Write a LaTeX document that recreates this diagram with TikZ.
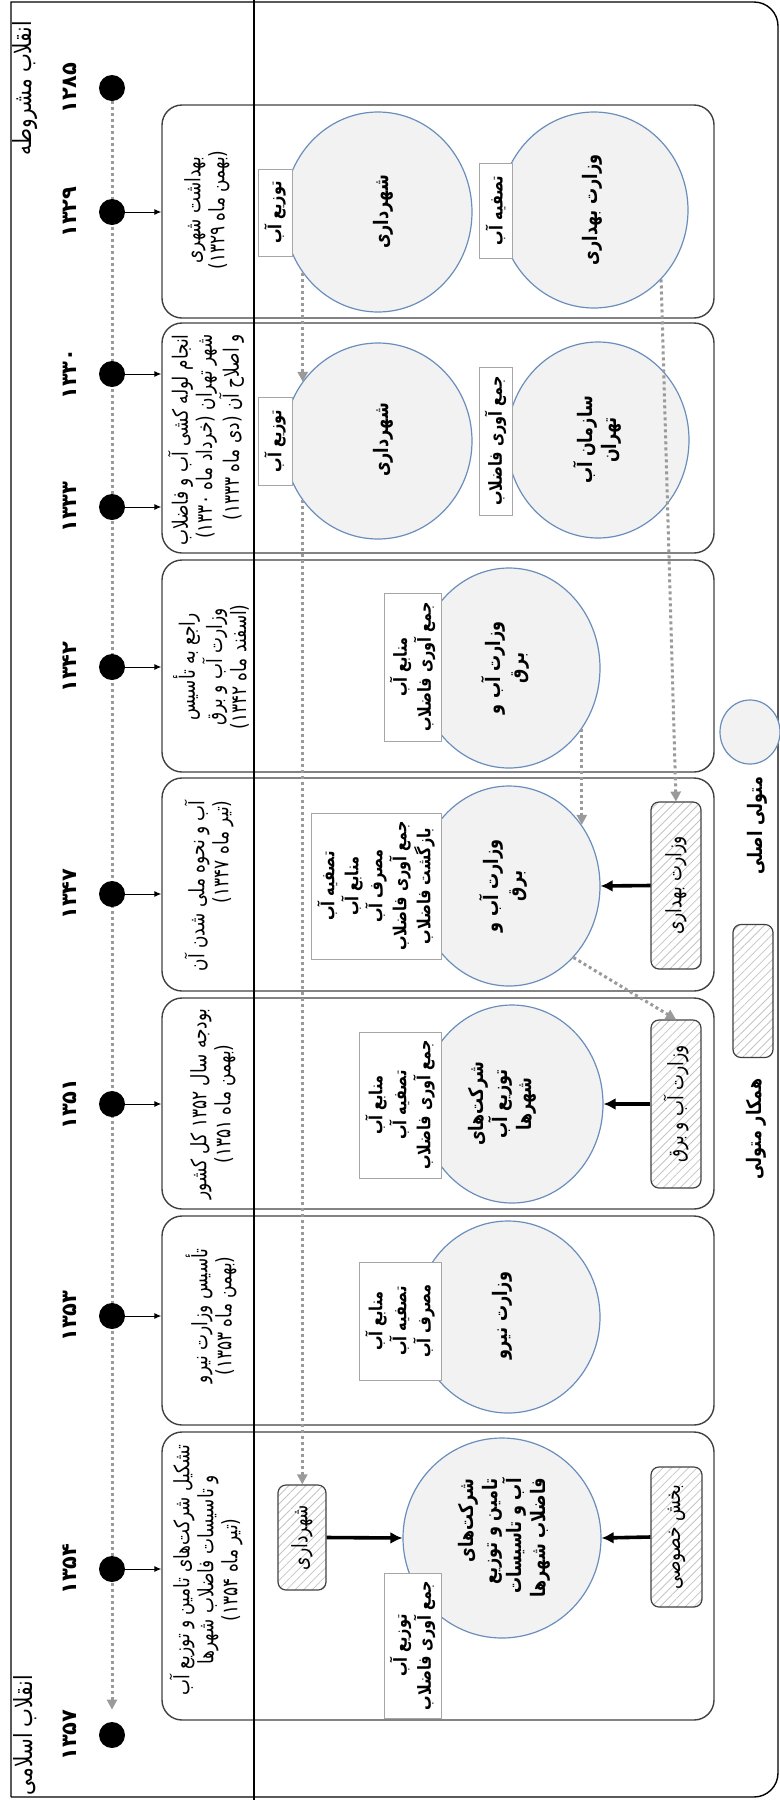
\documentclass[tikz,border=0pt]{standalone}
\usepackage{fontspec}
\usepackage[dvipsnames]{xcolor}
\usepackage{tikz}
\usetikzlibrary{shapes.geometric,arrows.meta,patterns.meta,backgrounds}
\newfontfamily\fa[Script=Arabic,FakeStretch=0.8]{DejaVu Sans}
\newfontfamily\fanum[Script=Arabic]{DejaVu Sans}
\TeXXeTstate=1
\newcommand\rl[1]{\beginR#1\endR}
\definecolor{dotgray}{HTML}{9A9A9A}
\definecolor{ringblue}{HTML}{6A8EBB}
\definecolor{fillgray}{HTML}{F2F2F2}
\definecolor{hatchgray}{HTML}{C4C4C4}

\begin{document}
\begin{tikzpicture}[x=0.5pt,y=-0.5pt,
    every node/.style={inner sep=0pt,font=\fa\fontsize{10.6}{12}\selectfont},
    vtext/.style={rotate=90,align=center},
    yearlbl/.style={rotate=90,font=\fanum\bfseries\fontsize{10.5}{12}\selectfont},
    tdot/.style={circle,fill=black,minimum size=13pt},
    eventbox/.style={draw=black!75,line width=0.7pt,rounded corners=10pt},
    role/.style={ellipse,draw=ringblue,line width=0.6pt,fill=fillgray},
    rolename/.style={rotate=90,align=center,font=\fa\bfseries\fontsize{10}{12}\selectfont},
    duty/.style={rotate=90,align=center,draw=black!35,line width=0.5pt,fill=white,font=\fa\bfseries\fontsize{9}{12}\selectfont},
    partner/.style={rotate=90,draw=black!75,line width=0.6pt,rounded corners=4pt,
      pattern={Lines[angle=45,distance=3pt,line width=0.4pt]},pattern color=hatchgray},
    flow/.style={draw=dotgray,line width=1.5pt,dash pattern=on 1.5pt off 1.5pt,-{Triangle[width=5pt,length=5pt]}},
    feed/.style={line width=1.8pt,-{Latex[length=6pt,width=6pt]}},
    link/.style={line width=0.5pt,-{Latex[length=3.5pt,width=3pt]}}]
  \useasboundingbox (0,0) rectangle (780,1800);

  \draw[line width=0.7pt] (11,1797) -- (11,2) [rounded corners=12pt] -- (778,2) -- (778,1797) -- (11,1797);

  \node[eventbox,minimum width=276pt,minimum height=106.5pt] (b1) at (438,211.5) {};
  \node[eventbox,minimum width=276pt,minimum height=115pt] (b2) at (438,438) {};
  \node[eventbox,minimum width=276pt,minimum height=106pt] (b3) at (438,666) {};
  \node[eventbox,minimum width=276pt,minimum height=106.5pt] (b4) at (438,884.5) {};
  \node[eventbox,minimum width=276pt,minimum height=105.5pt] (b5) at (438,1103.5) {};
  \node[eventbox,minimum width=276pt,minimum height=104.5pt] (b6) at (438,1320.5) {};
  \node[eventbox,minimum width=276pt,minimum height=144pt] (b7) at (438,1576) {};

  \draw[line width=1pt] (254,0) -- (254,1800);

  \node[tdot] (d1285) at (112,88) {};
  \node[tdot] (d1329) at (112,212) {};
  \node[tdot] (d1330) at (112,374) {};
  \node[tdot] (d1333) at (112,507) {};
  \node[tdot] (d1342) at (112,667) {};
  \node[tdot] (d1347) at (112,894) {};
  \node[tdot] (d1351) at (112,1104) {};
  \node[tdot] (d1353) at (112,1316) {};
  \node[tdot] (d1354) at (112,1569) {};
  \node[tdot] (d1357) at (112,1735) {};
  \begin{scope}[on background layer]
    \draw[flow,shorten >=6pt] (d1285) -- (d1357);
  \end{scope}

  \node[yearlbl] (y1285) at (70,88) {۱۲۸۵};
  \node[yearlbl] (y1329) at (70,212) {۱۳۲۹};
  \node[yearlbl] (y1330) at (70,374) {۱۳۳۰};
  \node[yearlbl] (y1333) at (70,507) {۱۳۳۳};
  \node[yearlbl] (y1342) at (70,667) {۱۳۴۲};
  \node[yearlbl] (y1347) at (70,894) {۱۳۴۷};
  \node[yearlbl] (y1351) at (70,1104) {۱۳۵۱};
  \node[yearlbl] (y1353) at (70,1316) {۱۳۵۳};
  \node[yearlbl] (y1354) at (70,1569) {۱۳۵۴};
  \node[yearlbl] (y1357) at (70,1735) {۱۳۵۷};
  \node[vtext,font=\fa\fontsize{12.5}{14}\selectfont] (rev1) at (25,88) {\rl{انقلاب مشروطه}};
  \node[vtext,font=\fa\fontsize{12.5}{14}\selectfont] (rev2) at (25,1735) {\rl{انقلاب اسلامی}};

  \draw[link] (d1329) -- (d1329 -| b1.west);
  \draw[link] (d1330) -- (d1330 -| b2.west);
  \draw[link] (d1333) -- (d1333 -| b2.west);
  \draw[link] (d1342) -- (d1342 -| b3.west);
  \draw[link] (d1347) -- (d1347 -| b4.west);
  \draw[link] (d1351) -- (d1351 -| b5.west);
  \draw[link] (d1353) -- (d1353 -| b6.west);
  \draw[link] (d1354) -- (d1354 -| b7.west);

  \node[vtext] (e1329) at (207,210) {\rl{بهداشت شهری}\\\rl{(بهمن ماه ۱۳۲۹)}};
  \node[vtext,align=right] (e1330) at (206,440) {\rl{انجام لوله کشی آب و فاضلاب}\\\rl{شهر تهران (خرداد ماه ۱۳۳۰)}\\\rl{و اصلاح آن (دی ماه ۱۳۳۳)}};
  \node[vtext] (e1342) at (211,667) {\rl{راجع به تأسیس}\\\rl{وزارت آب و برق}\\\rl{(اسفند ماه ۱۳۴۲)}};
  \node[vtext,align=right,anchor=east] (e1347) at (209,800) {\rl{آب و نحوه ملی شدن آن}\\\rl{(تیر ماه ۱۳۴۷)}};
  \node[vtext] (e1351) at (213,1104) {\rl{بودجه سال ۱۳۵۲ کل کشور}\\\rl{(بهمن ماه ۱۳۵۱)}};
  \node[vtext] (e1353) at (211,1316) {\rl{تأسیس وزارت نیرو}\\\rl{(بهمن ماه ۱۳۵۳)}};
  \node[vtext] (e1354) at (206,1570) {\rl{تشکیل شرکت‌های تامین و توزیع آب}\\\rl{و تاسیسات فاضلاب شهرها}\\\rl{(تیر ماه ۱۳۵۴)}};

  \node[role,minimum width=94pt,minimum height=100pt] (muni1) at (378,212) {};
  \node[role,minimum width=94pt,minimum height=98pt] (health1) at (594,210) {};
  \node[role,minimum width=94pt,minimum height=98pt] (muni2) at (378,441) {};
  \node[role,minimum width=91pt,minimum height=98pt] (tehran2) at (598,440) {};
  \node[role,minimum width=91pt,minimum height=100pt] (moe3) at (509,668) {};
  \node[role,minimum width=91pt,minimum height=100pt] (moe4) at (509,886) {};
  \node[role,minimum width=91pt,minimum height=99pt] (co5) at (512,1104) {};
  \node[role,minimum width=92pt,minimum height=96pt] (mon6) at (508,1317) {};
  \node[role,minimum width=99pt,minimum height=100pt] (co7) at (502,1538) {};

  \node[rolename] (muni1t) at (383,212) {\rl{شهرداری}};
  \node[rolename] (health1t) at (592,210) {\rl{وزارت بهداری}};
  \node[rolename] (muni2t) at (383,440) {\rl{شهرداری}};
  \node[rolename] (tehran2t) at (597,440) {\rl{سازمان آب}\\\rl{تهران}};
  \node[rolename] (moe3t) at (505,668) {\rl{وزارت آب و}\\\rl{برق}};
  \node[rolename] (moe4t) at (503,886) {\rl{وزارت آب و}\\\rl{برق}};
  \node[rolename] (co5t) at (502,1104) {\rl{شرکت‌های}\\\rl{توزیع آب}\\\rl{شهرها}};
  \node[rolename] (mon6t) at (502,1316) {\rl{وزارت نیرو}};
  \node[rolename,align=right] (co7t) at (504,1538) {\rl{شرکت‌های}\\\rl{تامین و توزیع}\\\rl{آب و تاسیسات}\\\rl{فاضلاب شهرها}};

  \node[duty,minimum width=43.5pt,minimum height=17pt] (tb1a) at (275,212.5) {\rl{توزیع آب}};
  \node[duty,minimum width=47.5pt,minimum height=16.5pt] (tb1b) at (495.5,210.5) {\rl{تصفیه آب}};
  \node[duty,minimum width=44pt,minimum height=17pt] (tb2a) at (275,441) {\rl{توزیع آب}};
  \node[duty,minimum width=74pt,minimum height=16.5pt] (tb2b) at (495.5,441) {\rl{جمع آوری فاضلاب}};
  \node[duty,minimum width=74pt,minimum height=28.5pt] (tb3) at (412.5,667) {\rl{منابع آب}\\\rl{جمع آوری فاضلاب}};
  \node[duty,minimum width=73pt,minimum height=65pt] (tb4) at (376,886) {\rl{تصفیه آب}\\\rl{منابع آب}\\\rl{مصرف آب}\\\rl{جمع آوری فاضلاب}\\\rl{بازگشت فاضلاب}};
  \node[duty,minimum width=73pt,minimum height=41pt] (tb5) at (400,1105) {\rl{منابع آب}\\\rl{تصفیه آب}\\\rl{جمع آوری فاضلاب}};
  \node[duty,minimum width=59pt,minimum height=41pt] (tb6) at (400,1321) {\rl{منابع آب}\\\rl{تصفیه آب}\\\rl{مصرف آب}};
  \node[duty,minimum width=72.5pt,minimum height=28.5pt] (tb7) at (412.5,1645.5) {\rl{توزیع آب}\\\rl{جمع آوری فاضلاب}};

  \node[partner,minimum width=83.5pt,minimum height=25pt] (hb4) at (676,885.5) {\rl{وزارت بهداری}};
  \node[partner,minimum width=84pt,minimum height=25pt] (hb5) at (676,1104) {\rl{وزارت آب و برق}};
  \node[partner,minimum width=52.5pt,minimum height=24pt] (hb7a) at (302,1537.5) {\rl{شهرداری}};
  \node[partner,minimum width=70pt,minimum height=25.5pt] (hb7b) at (676.5,1537) {\rl{بخش خصوصی}};

  \draw[feed] (hb4.north) -- (moe4.east);
  \draw[feed] (hb5.north) -- (co5.east);
  \draw[feed] (hb7a.south) -- (co7.west);
  \draw[feed] (hb7b.north) -- (co7.east);

  \draw[flow] (muni1.219) -- (muni1.219 |- muni2.142);
  \draw[flow] (muni2.218) -- (muni2.218 |- hb7a.east);
  \draw[flow] (health1.-46) -- (hb4.east);
  \draw[flow] (moe3.-40) -- (moe3.-40 |- moe4.40);
  \draw[flow] (moe4.-48) -- (hb5.east);

  \node[role,minimum width=30pt,minimum height=32pt] (keyrole) at (750,732) {};
  \node[rolename] (keyrolet) at (757,826) {\rl{متولی اصلی}};
  \node[partner,minimum width=66.5pt,minimum height=20pt] (keypartner) at (753,991) {};
  \node[rolename] (keypartnert) at (756,1129) {\rl{همکار متولی}};
\end{tikzpicture}
\end{document}
